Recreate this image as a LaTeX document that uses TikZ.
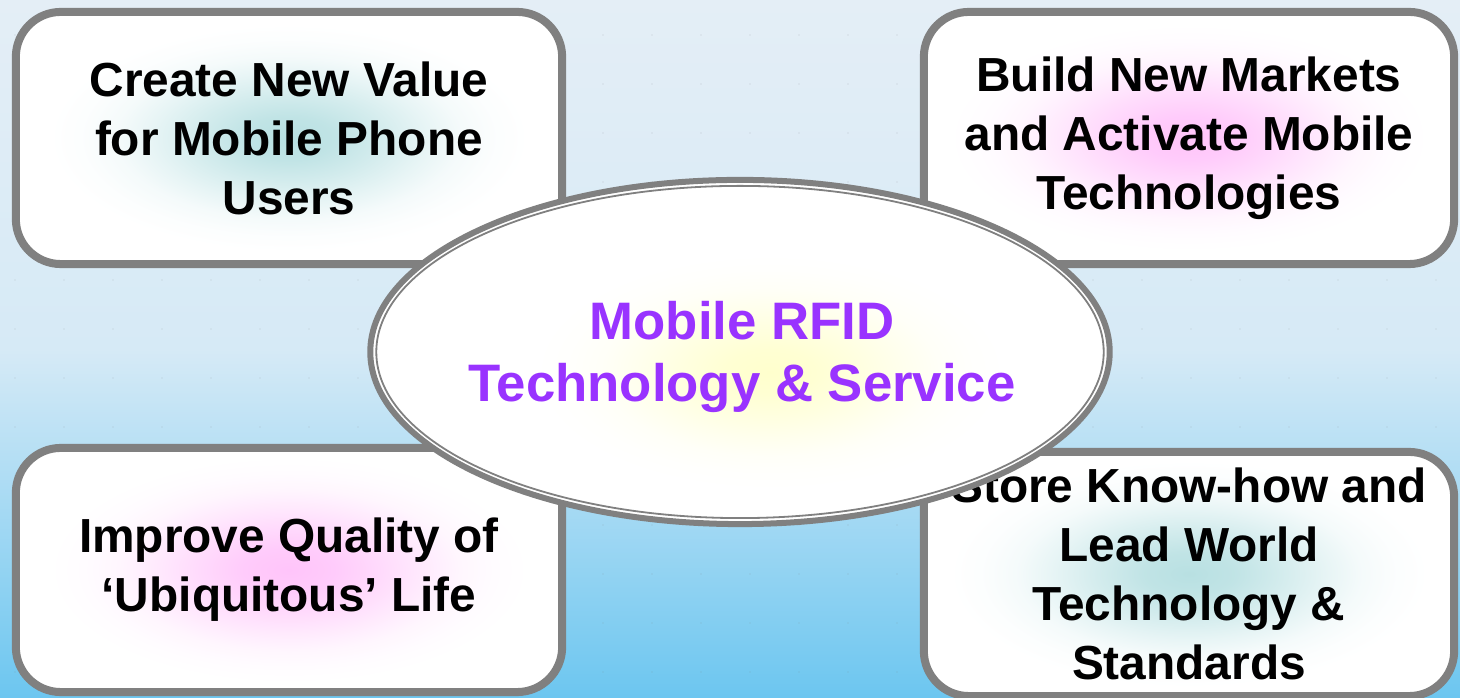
\documentclass[tikz,border=0pt]{standalone}
\usepackage{fontspec}
\setmainfont{Liberation Sans}
\usepackage{tikz}

\definecolor{boxgray}{RGB}{128,128,128}
\definecolor{rfidpurple}{RGB}{153,51,255}
\definecolor{glowteal}{RGB}{184,224,226}
\definecolor{glowpink}{RGB}{255,196,250}
\definecolor{glowyellow}{RGB}{255,255,205}
\definecolor{bgtop}{RGB}{228,238,246}
\definecolor{bgmid}{RGB}{214,234,246}
\definecolor{bgbottom}{RGB}{108,198,240}

% soft glows, fading out smoothly to white well inside the rim
\newcommand{\glowshading}[2]{%
  \pgfdeclareradialshading{#1}{\pgfpointorigin}{color(0bp)=(#2); color(4bp)=(#2!88!white);
    color(8bp)=(#2!62!white); color(12bp)=(#2!34!white); color(15bp)=(#2!15!white);
    color(18bp)=(#2!5!white); color(21bp)=(white); color(50bp)=(white)}}
\glowshading{tealglow}{glowteal}
\glowshading{pinkglow}{glowpink}
\glowshading{yellowglow}{glowyellow}

\tikzset{
  goalbox/.style={draw=boxgray, line width=0.08cm, rounded corners=0.45cm, fill=white,
    minimum width=5.46cm, minimum height=2.52cm, inner sep=0pt, align=center,
    font=\fontsize{13.6}{16.8}\selectfont\bfseries},
  glow/.style={path picture={\shade[shading=#1]
    (path picture bounding box.center) ellipse (2.85cm and 1.35cm);}},
  corefont/.style={text=rfidpurple, align=center, font=\fontsize{15}{17.6}\selectfont\bfseries},
}

\begin{document}
\begin{tikzpicture}[x=0.01cm, y=-0.01cm]
    \useasboundingbox (0,0) rectangle (1460,698);
    % background
    \shade[top color=bgtop, bottom color=bgbottom, middle color=bgmid] (0,0) rectangle (1460,698);
    \foreach \x in {15,64,...,1450}
      \foreach \y in {35,84,...,690}
        \fill[boxgray, opacity=0.1] (\x,\y) circle (0.012cm);

    % the four goals
    \node[goalbox, glow=tealglow] (value) at (289,138) {Create New Value\\for Mobile Phone\\Users};
    \node[goalbox, glow=pinkglow, minimum width=5.30cm] (markets) at (1189,138) {Build New Markets\\and Activate Mobile\\Technologies};
    \node[goalbox, glow=pinkglow, minimum height=2.44cm] (life) at (289,570) {Improve Quality of\\‘Ubiquitous’ Life};
    \node[goalbox, glow=tealglow, minimum width=5.30cm, minimum height=2.44cm] (knowhow) at (1189,574) {Store Know-how and\\Lead World\\Technology \&\\Standards};

    % centre
    \coordinate (core) at (740,352);
    \begin{scope}
      \clip (core) ellipse (3.695cm and 1.72cm);
      \fill[white] (core) ellipse (3.695cm and 1.72cm);
      \shade[shading=yellowglow] (770,372) ellipse (2.8cm and 1.4cm);
    \end{scope}
    \draw[boxgray, line width=0.06cm] (core) ellipse (3.695cm and 1.72cm);
    \draw[boxgray, line width=0.018cm] (core) ellipse (3.635cm and 1.66cm);
    \node[corefont] (corelabel) at (742,357) {Mobile RFID\\Technology \& Service};
\end{tikzpicture}
\end{document}
